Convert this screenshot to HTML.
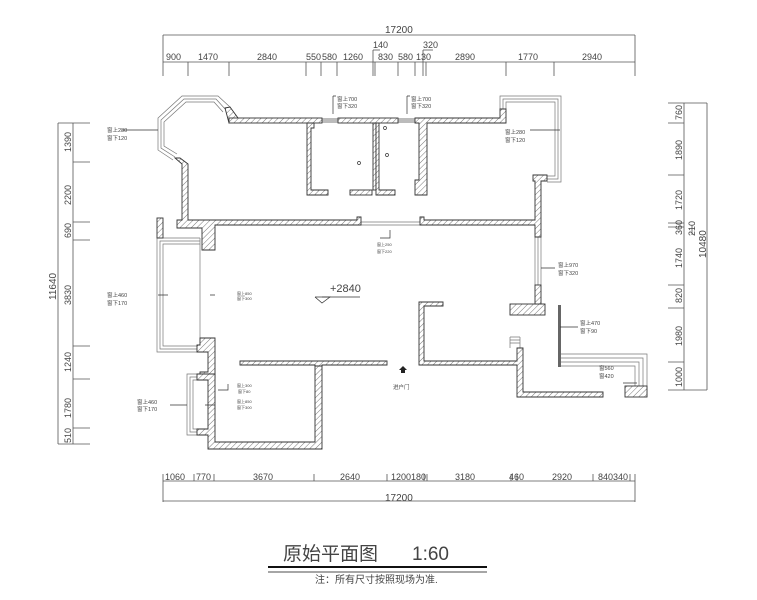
<!DOCTYPE html>
<html><head><meta charset="utf-8"><style>
html,body{margin:0;padding:0;background:#fff}
svg{display:block}
text{font-family:"Liberation Sans","Noto Sans CJK SC",sans-serif;fill:#444}
</style></head><body>
<svg width="757" height="600" viewBox="0 0 757 600" xmlns="http://www.w3.org/2000/svg">
<defs>
<pattern id="h" width="4" height="4" patternUnits="userSpaceOnUse" patternTransform="rotate(45)">
<rect width="4" height="4" fill="#fff"/><line x1="0" y1="0" x2="0" y2="4" stroke="#555" stroke-width="0.8"/>
</pattern>
</defs>
<g stroke="#555" stroke-width="0.8" fill="none">
<!-- top dims -->
<line x1="163" y1="35" x2="635" y2="35"/><line x1="163" y1="35" x2="163" y2="76"/><line x1="635" y1="35" x2="635" y2="76"/>
<line x1="163" y1="62" x2="635" y2="62"/>
<path d="M188 62v14M229 62v14M306 62v14M321 62v14M337 62v14M373 50v26M375 62v14M398 62v14M415 62v14M423 50v26M426 62v14M506 62v14M554 62v14"/>
<line x1="373" y1="50" x2="380" y2="50"/><line x1="423" y1="50" x2="433" y2="50"/>
<!-- bottom dims -->
<line x1="163" y1="481" x2="635" y2="481"/><line x1="163" y1="501" x2="635" y2="501"/>
<path d="M163 474v28M635 474v28M194 474v7M214 474v7M314 474v7M387 474v7M424 474v7M427 474v7M511 474v7M517 474v7M593 474v7M630 474v7"/>
<!-- left dims -->
<line x1="58" y1="123" x2="58" y2="444"/><line x1="73" y1="123" x2="73" y2="444"/>
<path d="M58 123h32M58 444h32M73 162h17M73 222h17M73 240h17M73 346h17M73 379h17M73 428h17"/>
<!-- right dims -->
<line x1="707" y1="103" x2="707" y2="390"/><line x1="684" y1="103" x2="684" y2="390"/>
<path d="M668 103h39M668 390h39M668 123h16M668 175h16M668 223h16M668 227h16M668 285h16M668 308h16M668 362h16M692 225v10"/>
</g>
<g font-size="9" fill="#555">
<text x="385" y="33" font-size="10">17200</text>
<text x="166" y="60">900</text><text x="198" y="60">1470</text><text x="257" y="60">2840</text>
<text x="306" y="60">550</text><text x="322" y="60">580</text><text x="343" y="60">1260</text>
<text x="373" y="48">140</text><text x="378" y="60">830</text><text x="398" y="60">580</text><text x="416" y="60">130</text>
<text x="423" y="48">320</text><text x="455" y="60">2890</text><text x="518" y="60">1770</text><text x="582" y="60">2940</text>
<text x="165" y="480">1060</text><text x="196" y="480">770</text><text x="253" y="480">3670</text><text x="340" y="480">2640</text>
<text x="391" y="480">1200180</text><text x="455" y="480">3180</text><text x="509" y="480">460</text><text x="552" y="480">2920</text><text x="598" y="480">840340</text>
<text x="385" y="501" font-size="10">17200</text>
</g>
<g font-size="9" fill="#555">
<text transform="translate(71,152) rotate(-90)">1390</text>
<text transform="translate(71,205) rotate(-90)">2200</text>
<text transform="translate(71,238) rotate(-90)">690</text>
<text transform="translate(71,305) rotate(-90)">3830</text>
<text transform="translate(71,372) rotate(-90)">1240</text>
<text transform="translate(71,418) rotate(-90)">1780</text>
<text transform="translate(71,443) rotate(-90)">510</text>
<text transform="translate(56,300) rotate(-90)" font-size="10">11640</text>
<text transform="translate(682,120) rotate(-90)">760</text>
<text transform="translate(682,160) rotate(-90)">1890</text>
<text transform="translate(682,210) rotate(-90)">1720</text>
<text transform="translate(682,235) rotate(-90)">360</text>
<text transform="translate(695,236) rotate(-90)">210</text>
<text transform="translate(682,268) rotate(-90)">1740</text>
<text transform="translate(682,303) rotate(-90)">820</text>
<text transform="translate(682,346) rotate(-90)">1980</text>
<text transform="translate(682,387) rotate(-90)">1000</text>
<text transform="translate(706,258) rotate(-90)" font-size="10">10480</text>
</g>
<!-- windows / thin frames -->
<g stroke="#777" stroke-width="0.7" fill="none">
<polyline points="230,107 218,96 182,96 158,118 158,150 173,160"/>
<polyline points="226,110 216,99 184,99 161,120 161,148 175,157"/>
<polyline points="223,112 214,102 186,102 164,122 164,146 177,154"/>
<polyline points="500,109 500,96 561,96 561,182 547,182"/>
<polyline points="503,109 503,99 558,99 558,179 547,179"/>
<polyline points="506,109 506,102 555,102 555,176 547,176"/>
<polyline points="200,238 157,238 157,352 200,352"/>
<polyline points="200,241 160,241 160,349 200,349"/>
<polyline points="200,244 163,244 163,346 200,346"/>
<line x1="200" y1="238" x2="200" y2="352"/>
<polyline points="200,374 187,374 187,435 200,435"/>
<polyline points="200,377 190,377 190,432 200,432"/>
<polyline points="200,380 193,380 193,429 200,429"/>
<line x1="535" y1="237" x2="535" y2="285"/><line x1="538" y1="237" x2="538" y2="285"/><line x1="541" y1="237" x2="541" y2="285"/>
<polyline points="561,354 647,354 647,397"/>
<polyline points="561,358 643,358 643,387"/>
<polyline points="561,362 639,362 639,387"/>
<polyline points="561,366 635,366 635,387"/>
<line x1="360" y1="222" x2="420" y2="222"/><line x1="360" y1="225" x2="420" y2="225"/>
<path d="M510 337h10M510 340h10M510 343h10M510 337v11M520 337v11"/>
</g>
<rect x="322" y="118" width="16" height="5" fill="#bbb"/>
<rect x="398" y="118" width="17" height="5" fill="#bbb"/>
<rect x="558" y="305" width="3" height="62" fill="#666"/>
<!-- walls -->
<g fill="url(#h)" stroke="#333" stroke-width="0.9">
<polygon points="225,108 230,107 238,118 229,123"/>
<rect x="229" y="118" width="93" height="5"/>
<rect x="338" y="118" width="60" height="5"/>
<polygon points="415,118 500,118 500,109 506,109 506,123 427,123 427,195 415,195 415,180 419,180 419,123 415,123"/>
<polygon points="307,123 314,123 314,128 311,128 311,190 328,190 328,195 307,195"/>
<rect x="350" y="190" width="22" height="5"/>
<rect x="373" y="123" width="3" height="67"/>
<polygon points="376,123 379,123 379,190 395,190 395,195 376,195"/>
<polygon points="175,158 180,158 188,164 188,220 357,220 357,217 361,217 361,225 215,225 215,250 202,250 202,228 177,228 177,220 182,220 182,164"/>
<polygon points="420,217 424,217 424,220 535,220 535,181 533,181 533,175 547,175 547,181 541,181 541,237 535,237 535,225 420,225"/>
<rect x="157" y="218" width="6" height="20"/>
<polygon points="200,338 215,338 215,378 200,378 200,372 208,372 208,352 197,352 197,345 200,345"/>
<polygon points="197,374 215,374 215,442 315,442 315,366 322,366 322,449 208,449 208,435 197,435 197,429 208,429 208,380 197,380"/>
<polygon points="240,361 387,361 387,365 322,365 322,366 315,366 315,365 240,365"/>
<polygon points="419,302 443,302 443,306 424,306 424,361 517,361 517,348 523,348 523,392 603,392 603,397 517,397 517,365 419,365"/>
<rect x="510" y="304" width="35" height="11"/>
<rect x="535" y="285" width="6" height="19"/>
<rect x="625" y="386" width="22" height="11"/>
</g>
<g stroke="#333" stroke-width="0.7" fill="none">
<path d="M122 130h36M168 295h-10M170 405h17M541 268h14M560 327h18M623 383h14M390 230v8h-10"/>
<path d="M333 96v18M333 96h3M407 96v18M407 96h3M215 295h-5M215 405h-10M228 384v6h-10M530 130h30"/>
<circle cx="359" cy="163" r="1.5"/><circle cx="385" cy="128" r="1.5"/><circle cx="387" cy="155" r="1.5"/>
<polyline points="315,297 330,297 322,303 315,297"/>
<line x1="322" y1="297" x2="360" y2="297"/>
</g>
<path d="M403 366l-4 4h2v3h4v-3h2z" fill="#222"/>
<g font-size="5.5" fill="#333">
<text x="337" y="101">窗上700</text><text x="337" y="108">窗下320</text>
<text x="411" y="101">窗上700</text><text x="411" y="108">窗下320</text>
<text x="107" y="132">窗上280</text><text x="107" y="140">窗下120</text>
<text x="505" y="134">窗上280</text><text x="505" y="142">窗下120</text>
<text x="107" y="297">窗上460</text><text x="107" y="305">窗下170</text>
<text x="137" y="404">窗上460</text><text x="137" y="411">窗下170</text>
<text x="377" y="246" font-size="4">窗上250</text><text x="377" y="253" font-size="4">窗下220</text>
<text x="237" y="295" font-size="4">窗上850</text><text x="237" y="300" font-size="4">窗下300</text>
<text x="237" y="387" font-size="4">窗上300</text><text x="238" y="393" font-size="4">窗下80</text>
<text x="237" y="403" font-size="4">窗上850</text><text x="237" y="409" font-size="4">窗下300</text>
<text x="558" y="267">窗上970</text><text x="558" y="275">窗下320</text>
<text x="580" y="325">窗上470</text><text x="580" y="333">窗下90</text>
<text x="599" y="370">窗560</text><text x="599" y="378">窗420</text>
<text x="393" y="389">进户门</text>
</g>
<text x="330" y="292" font-size="11" fill="#555">+2840</text>
<text x="283" y="560" font-size="19" fill="#111" style="font-family:'Noto Sans CJK SC',sans-serif">原始平面图</text>
<text x="412" y="560" font-size="19" fill="#111">1:60</text>
<line x1="268" y1="567" x2="487" y2="567" stroke="#111" stroke-width="2"/>
<line x1="268" y1="572" x2="487" y2="572" stroke="#111" stroke-width="0.8"/>
<text x="315" y="583" font-size="10" fill="#222">注：所有尺寸按照现场为准.</text>
</svg>
</body></html>
